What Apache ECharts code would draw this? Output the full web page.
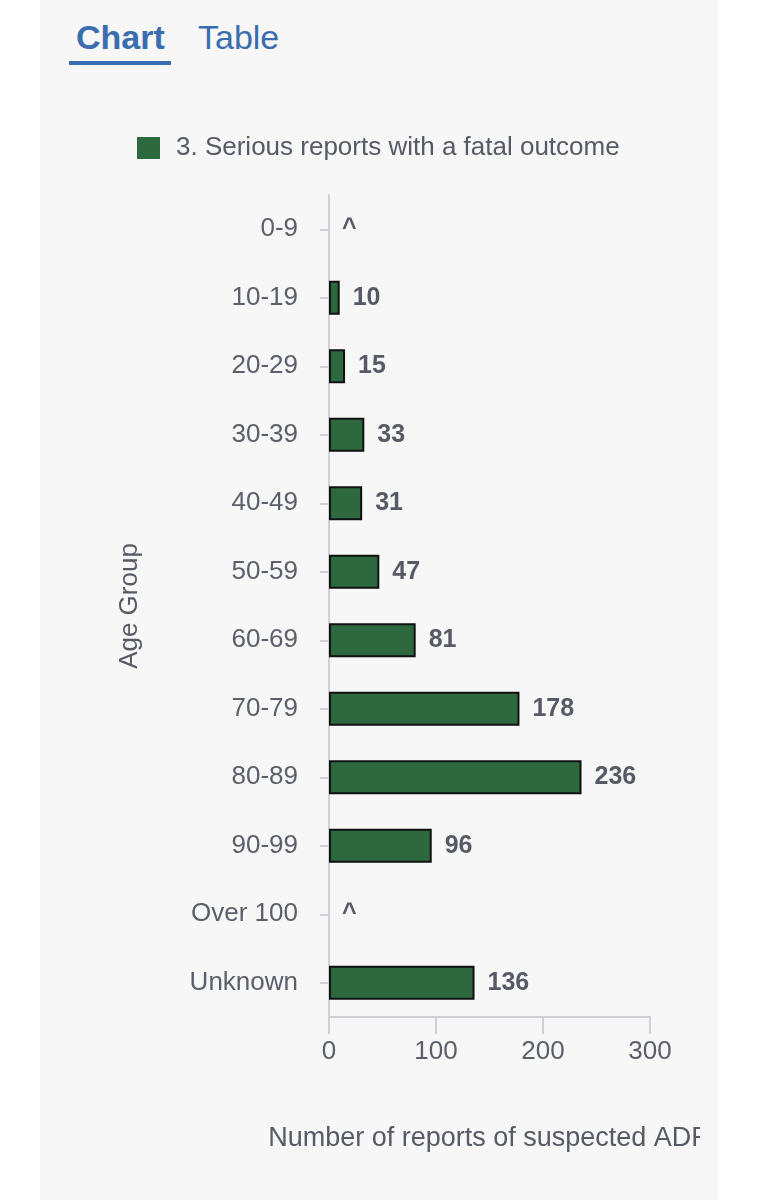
<!DOCTYPE html>
<html>
<head>
<meta charset="utf-8">
<script src="https://cdn.jsdelivr.net/npm/echarts@6/dist/echarts.min.js"></script>
<style>
  html, body { margin: 0; padding: 0; background: #ffffff; width: 760px; height: 1200px; overflow: hidden; font-family: "Liberation Sans", Arial, sans-serif; }
  #panel { position: absolute; left: 40px; top: 0; width: 678px; height: 1200px; background: #f7f7f7; }
  .tab { position: absolute; top: 17px; font-size: 34px; color: #3a6daf; line-height: 40px; }
  #tabChart { left: 76px; font-weight: bold; }
  #tabTable { left: 198px; }
  #underline { position: absolute; left: 69px; top: 61px; width: 102px; height: 4px; background: #3a6daf; }
  #chart { position: absolute; left: 0; top: 0; width: 700px; height: 1200px; }
</style>
</head>
<body>
<div id="panel"></div>
<div class="tab" id="tabChart">Chart</div>
<div class="tab" id="tabTable">Table</div>
<div id="underline"></div>
<div id="chart"></div>
<script>
const categories = ['0-9', '10-19', '20-29', '30-39', '40-49', '50-59', '60-69', '70-79', '80-89', '90-99', 'Over 100', 'Unknown'];
const values = [null, 10, 15, 33, 31, 47, 81, 178, 236, 96, null, 136];
const xTicks = [0, 100, 200, 300];
const seriesName = '3. Serious reports with a fatal outcome';
const xAxisTitle = 'Number of reports of suspected ADR';
const yAxisTitle = 'Age Group';
const suppressedLabel = '^';

const barData = values.map(v => v === null
  ? { value: 0, itemStyle: { color: 'rgba(0,0,0,0)', borderWidth: 0 }, label: { formatter: suppressedLabel } }
  : { value: v });

const chart = echarts.init(document.getElementById('chart'), null, { renderer: 'canvas' });
const font = '"Liberation Sans", Arial, sans-serif';
chart.setOption({
  animation: false,
  textStyle: { fontFamily: font },
  legend: {
    left: 132, top: 130,
    itemWidth: 23, itemHeight: 22,
    icon: 'rect',
    itemStyle: { borderWidth: 0 },
    textStyle: { fontSize: 26, color: '#555a65', fontFamily: font, padding: [0, 0, 0, 11] },
    data: [seriesName]
  },
  grid: { left: 329, right: 50, top: 195, bottom: 183, containLabel: false, outerBoundsMode: 'none' },
  xAxis: {
    type: 'value',
    min: xTicks[0], max: xTicks[xTicks.length - 1], interval: 100,
    name: xAxisTitle,
    nameLocation: 'middle',
    nameGap: 108,
    nameTextStyle: { fontSize: 27, color: '#555a65', fontFamily: font },
    axisLine: { show: true, lineStyle: { color: '#cfd0d6', width: 2 } },
    axisTick: { show: true, length: 17, lineStyle: { color: '#cfd0d6', width: 2 } },
    axisLabel: { fontSize: 26, color: '#5a5f6a', margin: 22, fontFamily: font },
    splitLine: { show: false }
  },
  yAxis: {
    type: 'category',
    inverse: true,
    data: categories,
    name: yAxisTitle,
    nameLocation: 'middle',
    nameRotate: 90,
    nameGap: 186,
    nameTextStyle: { fontSize: 26, color: '#555a65', fontFamily: font },
    axisLine: { show: true, lineStyle: { color: '#cfd0d6', width: 2 } },
    axisTick: { show: true, alignWithLabel: true, length: 9, lineStyle: { color: '#cfd0d6', width: 2 } },
    axisLabel: { fontSize: 26, color: '#5a5f6a', margin: 31, fontFamily: font }
  },
  series: [{
    name: seriesName,
    type: 'bar',
    data: barData,
    barWidth: 34,
    itemStyle: { color: '#2d683e', borderColor: '#111111', borderWidth: 2 },
    label: {
      show: true, position: 'right', distance: 13,
      fontSize: 25, fontWeight: 'bold', color: '#555a65', fontFamily: font
    }
  }]
});
</script>
</body>
</html>
